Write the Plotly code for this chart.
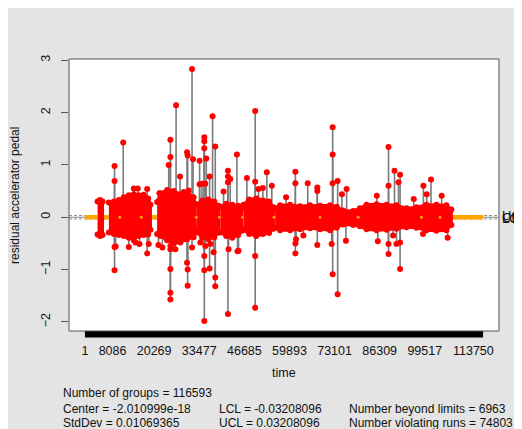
import plotly.graph_objects as go

# ---------------- data ----------------
n_groups = 116593
center = -2.010999e-18
std_dev = 0.01069365
lcl = -0.03208096
ucl = 0.03208096
n_beyond = 6963
n_violating = 74803

tick_vals = [1, 8086, 20269, 33477, 46685, 59893, 73101, 86309, 99517, 113750]
tick_labels = ["1", "8086", "20269", "33477", "46685", "59893", "73101", "86309", "99517", "113750"]

# isolated points beyond the dense band (group index, residual)
spike_idx = [8674, 8674, 8674, 8674, 8996, 11215, 12850, 14311, 14311, 14808, 15479, 15975,
             18224, 18224, 18692, 21525, 21817, 22693, 24533, 25029, 25029, 25029, 25029,
             25029, 25029, 25029, 26490, 26694, 27862, 28914, 29907, 29907, 30082, 30082,
             30082, 30375, 31367, 31367, 31659, 33586, 33586, 33791, 34287, 34959, 34959,
             34959, 34959, 34959, 34959, 35251, 35251, 35543, 36507, 36507, 36711, 37383,
             37675, 38171, 38171, 38171, 40596, 41881, 41881, 41881, 41881, 42057, 42553,
             44509, 44685, 44977, 47430, 49854, 49854, 49854, 49854, 50818, 52103, 53271,
             54731, 58908, 61624, 61624, 61624, 61624, 61828, 63961, 65245, 68049, 68049,
             68049, 72255, 72547, 72547, 72547, 72547, 74007, 74007, 75263, 76431, 76635,
             85485, 85777, 88902, 88902, 88902, 88902, 90247, 90654, 91240, 91822, 92290,
             92290, 92290, 96293, 99008, 99124, 100088, 101343, 104468, 106221]
spike_val = [0.98, 0.69, -1.01, -0.57, -0.56, 1.43, -0.57, -0.44, 0.55, -0.48, 0.55, -0.51,
             0.54, -0.69, -0.51, -0.53, 0.46, -0.58, 1.00, 1.48, 1.15, -0.55, -0.61,
             -0.99, -1.44, -1.57, -0.61, 2.14, 0.78, 0.48, 1.24, -0.87, 1.18, -1.31,
             -1.00, 0.51, 2.83, -0.58, 1.11, 1.08, 0.63, -0.48, 0.64, 1.53, 1.45,
             1.32, -1.98, -1.01, -0.74, 0.64, -0.55, 1.12, 0.78, -0.98, -0.51, 1.93,
             -0.67, 1.35, -1.32, -1.15, 0.49, -1.85, 0.89, 0.78, 0.67, -0.61, 0.73,
             1.20, -0.65, -0.64, 0.75, 2.03, -1.73, -0.74, 0.68, 0.54, 0.56, 0.86,
             0.60, 0.38, 0.87, 0.65, -0.69, -0.50, -0.42, -0.35, 0.65, 0.57, 0.50,
             -0.53, -0.51, 1.72, 1.20, 0.65, -1.09, -1.47, 0.69, 0.44, -0.45, 0.54,
             0.41, -0.46, 1.34, 0.60, -0.70, -0.51, -0.35, 0.89, -0.51, 0.67, 0.81,
             -0.99, -0.48, 0.35, -0.32, 0.60, 0.44, 0.72, 0.41, -0.39]

# dense cloud of out-of-limit points: envelope per segment
band_seg = [0, 0, 0,
            1, 1, 1, 1, 1, 1, 1, 1, 1, 1,
            2, 2, 2, 2, 2, 2, 2, 2,
            3, 3, 3, 3, 3,
            4, 4, 4, 4, 4,
            5, 5, 5, 5, 5, 5,
            6, 6, 6, 6, 6, 6, 6, 6, 6, 6, 6, 6, 6, 6, 6, 6, 6, 6, 6, 6, 6]
band_idx = [3709, 4439, 5169,
            7009, 8470, 9930, 11390, 12851, 14311, 15771, 17232, 18517, 19188,
            21145, 22109, 24066, 25993, 27950, 29907, 31835, 32331,
            32827, 34375, 36128, 37880, 39136,
            39632, 41385, 43137, 44889, 45970,
            46437, 48102, 50146, 52191, 53943, 55199,
            55696, 57156, 60077, 62997, 65918, 68839, 71759, 73716, 75643, 78564, 80520,
            82477, 85398, 88319, 91240, 94160, 97081, 100002, 102922, 105843, 107303]
band_hi = [0.30, 0.33, 0.30,
           0.28, 0.30, 0.33, 0.38, 0.42, 0.44, 0.42, 0.43, 0.36, 0.24,
           0.29, 0.46, 0.52, 0.50, 0.44, 0.47, 0.38, 0.24,
           0.25, 0.32, 0.34, 0.30, 0.22,
           0.20, 0.26, 0.24, 0.22, 0.17,
           0.24, 0.34, 0.36, 0.32, 0.30, 0.19,
           0.17, 0.23, 0.24, 0.21, 0.23, 0.22, 0.23, 0.20, 0.13, 0.12, 0.17,
           0.24, 0.25, 0.24, 0.23, 0.17, 0.19, 0.24, 0.24, 0.23, 0.15]
band_lo = [-0.33, -0.36, -0.34,
           -0.29, -0.32, -0.34, -0.36, -0.39, -0.38, -0.36, -0.34, -0.33, -0.24,
           -0.32, -0.36, -0.44, -0.50, -0.48, -0.42, -0.38, -0.24,
           -0.29, -0.39, -0.42, -0.38, -0.29,
           -0.29, -0.36, -0.39, -0.34, -0.26,
           -0.24, -0.32, -0.36, -0.32, -0.30, -0.22,
           -0.20, -0.25, -0.25, -0.23, -0.21, -0.23, -0.25, -0.20, -0.14, -0.15, -0.17,
           -0.23, -0.25, -0.24, -0.22, -0.19, -0.20, -0.25, -0.26, -0.25, -0.15]

# runs of violating (orange) points near the centre line
run_start = [1, 5257, 19188, 107302]
run_end = [3621, 7009, 21145, 116593]
orange_dot_idx = [10200, 16500, 32600, 39380, 46150, 55400, 68840, 80020, 98540, 104000]

# ---------------- figure ----------------
RED = "#FF0000"
ORANGE = "#FFA500"
GREY_LINE = "#7a7a7a"
FONT = "Liberation Sans, Arial, sans-serif"

all_vals = spike_val + band_hi + band_lo
ymin, ymax = min(all_vals), max(all_vals)
yr = [ymin - 0.04 * (ymax - ymin), ymax + 0.04 * (ymax - ymin)]
xr = [1 - 0.04 * (n_groups - 1), n_groups + 0.04 * (n_groups - 1)]

fig = go.Figure()

# stems (series line reaching the isolated points)
sx, sy = [], []
for i, v in zip(spike_idx, spike_val):
    sx += [i, i, None]
    sy += [center, v, None]
fig.add_trace(go.Scatter(x=sx, y=sy, mode="lines",
                         line=dict(color=GREY_LINE, width=1.6), hoverinfo="skip"))

# orange runs
for s, e in zip(run_start, run_end):
    fig.add_trace(go.Scatter(x=[s, e], y=[center, center], mode="lines",
                             line=dict(color=ORANGE, width=4.5), hoverinfo="skip"))

# dense red band
for seg in sorted(set(band_seg)):
    xs = [x for x, g in zip(band_idx, band_seg) if g == seg]
    hs = [h for h, g in zip(band_hi, band_seg) if g == seg]
    ls = [l for l, g in zip(band_lo, band_seg) if g == seg]
    fig.add_trace(go.Scatter(x=xs + xs[::-1], y=hs + ls[::-1], mode="lines",
                             fill="toself", fillcolor=RED,
                             line=dict(color=RED, width=3), hoverinfo="skip"))
fig.add_trace(go.Scatter(x=band_idx + band_idx, y=band_hi + band_lo, mode="markers",
                         marker=dict(color=RED, size=6), hoverinfo="skip"))

# isolated points
fig.add_trace(go.Scatter(x=spike_idx, y=spike_val, mode="markers",
                         marker=dict(color=RED, size=6), hoverinfo="skip"))

# orange points showing through the band
fig.add_trace(go.Scatter(x=orange_dot_idx, y=[center] * len(orange_dot_idx), mode="markers",
                         marker=dict(color=ORANGE, size=3), hoverinfo="skip"))

shapes = [
    # centre line and control limits
    dict(type="line", xref="paper", yref="y", x0=0, x1=1, y0=center, y1=center,
         line=dict(color="#8c8c8c", width=1), layer="below"),
    dict(type="line", xref="paper", yref="y", x0=0, x1=1, y0=ucl, y1=ucl,
         line=dict(color="#8c8c8c", width=1, dash="3px,2px"), layer="below"),
    dict(type="line", xref="paper", yref="y", x0=0, x1=1, y0=lcl, y1=lcl,
         line=dict(color="#8c8c8c", width=1, dash="3px,2px"), layer="below"),
    # dense group tick marks (black bar)
    dict(type="rect", xref="x", yref="paper", x0=1, x1=n_groups, y0=-0.024, y1=0,
         fillcolor="black", line=dict(width=0)),
    # plot box
    dict(type="rect", xref="paper", yref="paper", x0=0, x1=1, y0=0, y1=1,
         line=dict(color="#555555", width=1)),
]

txt = dict(family=FONT, size=12, color="#111111")
annotations = [
    dict(text="time", xref="paper", yref="paper", x=0.5, y=-0.154, showarrow=False,
         xanchor="center", yanchor="middle", font=dict(family=FONT, size=12.5, color="#111")),
    dict(text="residual accelerator pedal", xref="paper", yref="paper", x=-0.1256, y=0.5,
         textangle=-90, showarrow=False, xanchor="center", yanchor="middle", font=txt),
    dict(text=f"Number of groups = {n_groups}", xref="paper", yref="paper", x=-0.0193,
         y=-0.2268, showarrow=False, xanchor="left", yanchor="middle", font=txt),
    dict(text=f"Center = {center:.7g}", xref="paper", yref="paper", x=-0.0193,
         y=-0.2868, showarrow=False, xanchor="left", yanchor="middle", font=txt),
    dict(text=f"StdDev = {std_dev:.7g}", xref="paper", yref="paper", x=-0.0193,
         y=-0.3393, showarrow=False, xanchor="left", yanchor="middle", font=txt),
    dict(text=f"LCL = {lcl:.7g}", xref="paper", yref="paper", x=0.3442,
         y=-0.2868, showarrow=False, xanchor="left", yanchor="middle", font=txt),
    dict(text=f"UCL = {ucl:.7g}", xref="paper", yref="paper", x=0.3442,
         y=-0.3393, showarrow=False, xanchor="left", yanchor="middle", font=txt),
    dict(text=f"Number beyond limits = {n_beyond}", xref="paper", yref="paper", x=0.6465,
         y=-0.2868, showarrow=False, xanchor="left", yanchor="middle", font=txt),
    dict(text=f"Number violating runs = {n_violating}", xref="paper", yref="paper", x=0.6465,
         y=-0.3393, showarrow=False, xanchor="left", yanchor="middle", font=txt),
]
for lab, val in [("UCL", ucl), ("LCL", lcl), ("CL", center)]:
    annotations.append(dict(text=lab, xref="paper", yref="y", x=1.002, y=val,
                            showarrow=False, xanchor="left", yanchor="middle",
                            font=dict(family=FONT, size=13, color="#111")))

fig.update_layout(
    width=522, height=429,
    margin=dict(l=61, r=31, t=51, b=106, pad=0, autoexpand=False),
    paper_bgcolor="#e4e4e4", plot_bgcolor="white",
    showlegend=False,
    shapes=shapes, annotations=annotations,
    font=dict(family=FONT, size=12.5, color="#111"),
    xaxis=dict(range=xr, showgrid=False, zeroline=False, showline=False,
               automargin=False,
               tickmode="array", tickvals=tick_vals, ticktext=tick_labels,
               ticks="outside", ticklen=8, tickcolor="rgba(0,0,0,0)", tickangle=0,
               tickfont=dict(family=FONT, size=12.5, color="#111")),
    yaxis=dict(range=yr, showgrid=False, zeroline=False, showline=False,
               automargin=False,
               tickmode="array", tickvals=[-2, -1, 0, 1, 2, 3],
               ticks="outside", ticklen=7, tickcolor="#555555", tickangle=-90,
               ticklabelstandoff=6,
               tickfont=dict(family=FONT, size=12.5, color="#111")),
)

fig.write_html("out.html")
